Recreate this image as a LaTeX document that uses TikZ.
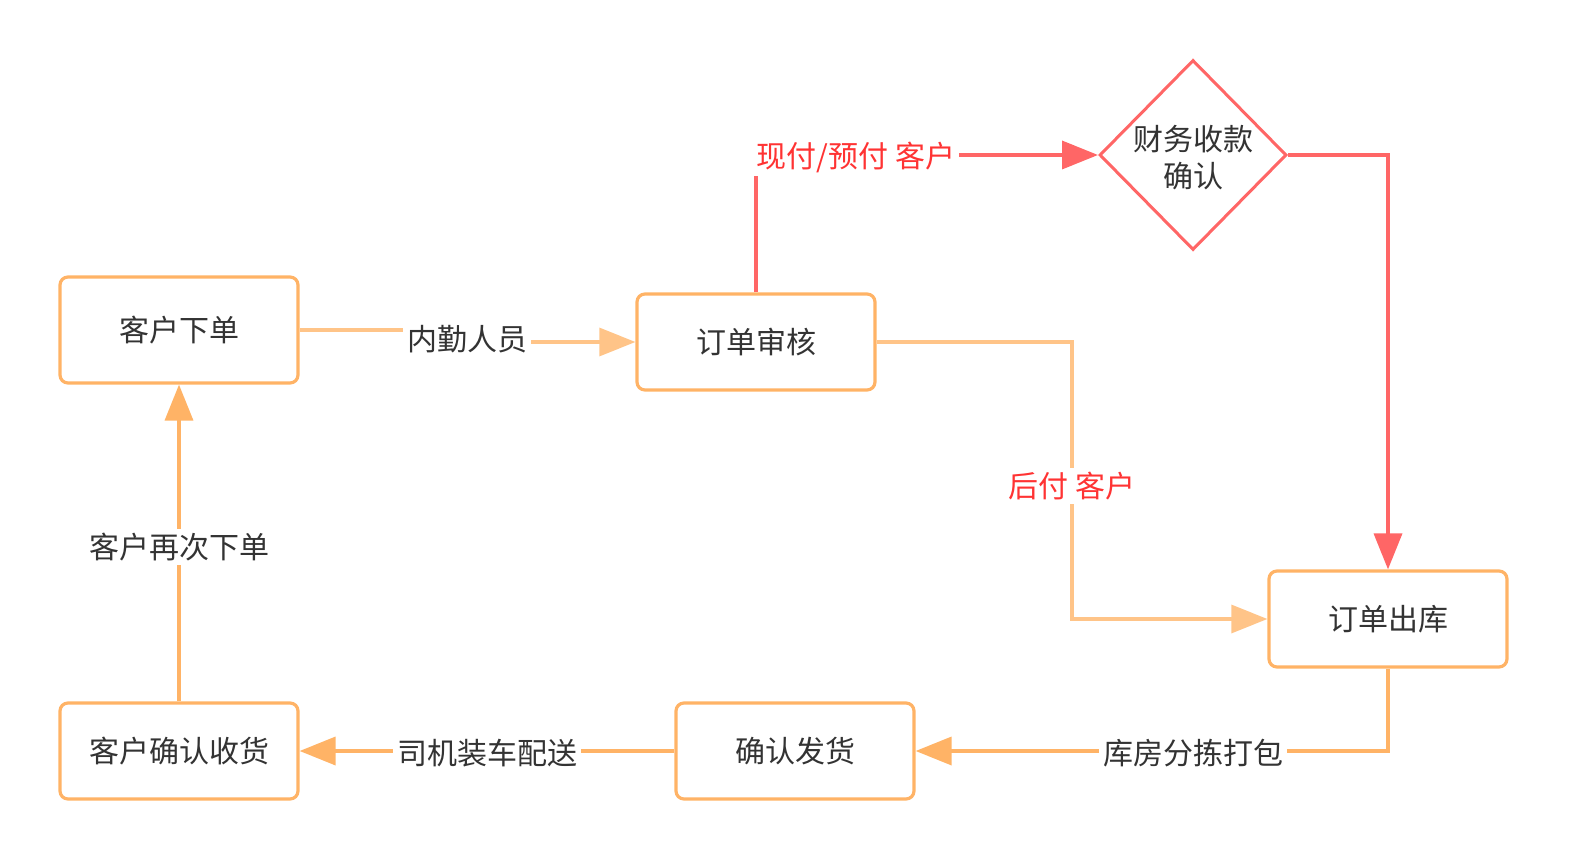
\documentclass[tikz,border=0pt]{standalone}
\usepackage{fontspec}
\newfontfamily\cjk{Noto Sans CJK SC}
\usetikzlibrary{arrows.meta,shapes.geometric}
\definecolor{org}{HTML}{FFB366}
\definecolor{lorg}{HTML}{FFC488}
\definecolor{redl}{HTML}{FF6666}
\definecolor{redt}{HTML}{FF3333}
\definecolor{txt}{HTML}{333333}
\tikzset{
  cjkfont/.style={font=\cjk\fontsize{15}{18.5}\selectfont},
  box/.style={draw=org, line width=1.6pt, rounded corners=4pt, fill=white,
    minimum width=119pt, minimum height=48pt, cjkfont, text=txt},
  dia/.style={diamond, draw=redl, line width=1.5pt, minimum width=93.5pt,
    minimum height=95pt, inner sep=0pt, fill=white},
  tip/.style={-{Triangle[length=18pt,width=14pt]}},
  oline/.style={draw=org, line width=1.8pt, tip},
  lline/.style={draw=lorg, line width=1.6pt, tip},
  rline/.style={draw=redl, line width=1.8pt, tip},
  lab/.style={fill=white, inner sep=2pt, cjkfont, text=txt},
  rlab/.style={fill=white, inner sep=2pt, cjkfont, text=redt},
}
\begin{document}
\begin{tikzpicture}[x=0.5pt,y=-0.5pt]
\useasboundingbox (0,0) rectangle (1570,861);
% nodes
\node[box, minimum height=53pt] (kx) at (179,330) {客户下单};
\node[box] (sh) at (756,342) {订单审核};
\node[dia] (fin) at (1193,155) {};
\node[cjkfont, text=txt, align=center] (fint) at (1193,158) {财务收款\\确认};
\node[box] (out) at (1388,619) {订单出库};
\node[box] (fa) at (795,751) {确认发货};
\node[box] (qs) at (179,751) {客户确认收货};
% helper coordinates
\coordinate (m1) at (467,336);
\coordinate (m4) at (1072,486);
% connectors
\draw[lline] (kx.east) -| (m1) |- (sh.west);
\draw[rline] (sh.north) |- (fin.west);
\draw[rline] (fin.east) -| (out.north);
\draw[lline] (sh.east) -| (m4) |- (out.west);
\draw[oline] (out.south) |- (fa.east);
\draw[oline] (fa.west) -- (qs.east);
\draw[oline] (qs.north) -- (kx.south);
% labels
\node[lab] (l1) at (467,339) {内勤人员};
\node[rlab] (l2) at (856,157) {现付/预付 客户};
\node[rlab] (l4) at (1072,486) {后付 客户};
\node[lab] (l5) at (1193,753) {库房分拣打包};
\node[lab] (l6) at (487,753) {司机装车配送};
\node[lab] (l7) at (179,547) {客户再次下单};
\end{tikzpicture}
\end{document}
